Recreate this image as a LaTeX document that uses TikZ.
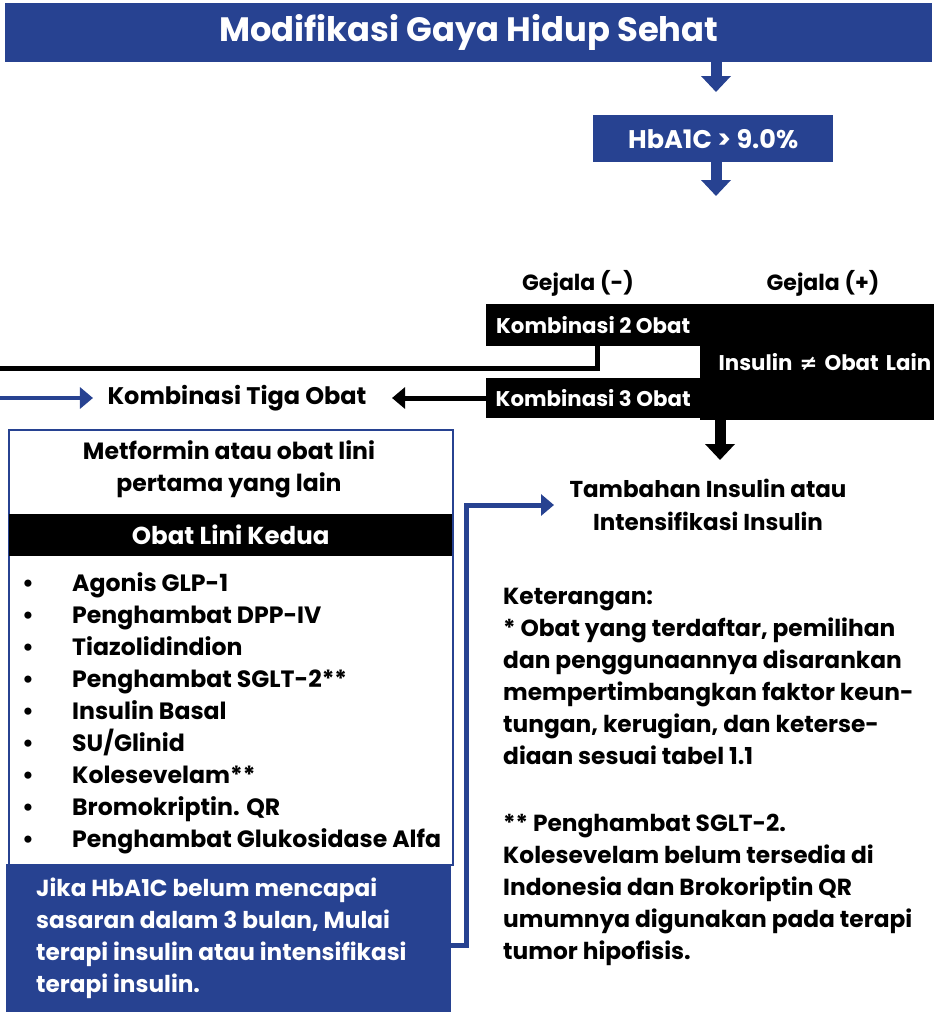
\documentclass[tikz,border=0pt]{standalone}
\usepackage{fontspec}
\setmainfont{Poppins}
\newfontfamily\symf{DejaVu Sans}
\usetikzlibrary{arrows.meta}
\definecolor{dblue}{RGB}{39,66,145}
\tikzset{
  bluebox/.style={fill=dblue, text=white, inner sep=0pt},
  blackbox/.style={fill=black, text=white, inner sep=0pt},
  fatarrow/.style={line width=11pt, -{Triangle[length=16pt,width=29pt]}},
  thinarrow/.style={line width=5pt, -{Triangle[length=13pt,width=21pt]}},
  fsA/.style={font=\bfseries\fontsize{23.6}{32}\selectfont},
  fsB/.style={font=\bfseries\fontsize{22}{32}\selectfont},
  fsC/.style={font=\bfseries\fontsize{21.3}{24}\selectfont},
}
\begin{document}
\begin{tikzpicture}[x=1pt,y=-1pt]
\useasboundingbox (0,0) rectangle (934,1012);
% title
\node[bluebox, anchor=north west, minimum width=927pt, minimum height=59pt,
      font=\bfseries\fontsize{33.8}{38}\selectfont] (title) at (5,3) {Modifikasi Gaya Hidup Sehat};
\node[bluebox, anchor=north west, minimum width=240pt, minimum height=47pt,
      font=\bfseries\fontsize{25.5}{30}\selectfont] (hba) at (593,115) {HbA1C > 9.0\%};
\coordinate (a1) at (716,92);
\coordinate (a2) at (716,196);
\draw[fatarrow, dblue] (title.south -| a1) -- (a1);
\draw[fatarrow, dblue] (hba.south -| a2) -- (a2);
% gejala
\node[fsB] (gneg) at (578,283) {Gejala (-)};
\node[fsB] (gpos) at (823,283) {Gejala (+)};
% black boxes
\node[blackbox, anchor=north west, minimum width=234pt, minimum height=116pt,
      text width=228pt, align=right, fsC] (ins) at (700,304) {Insulin {\symf\bfseries ≠} Obat Lain};
\node[blackbox, anchor=north west, minimum width=214pt, minimum height=42pt, fsC] (k2) at (486,304) {Kombinasi 2 Obat};
\node[blackbox, anchor=north west, minimum width=214pt, minimum height=40pt, fsC] (k3) at (486,378) {Kombinasi 3 Obat};
\coordinate (a3) at (720,460);
\draw[fatarrow, black] (ins.south -| a3) -- (a3);
% kombinasi tiga obat
\node[font=\bfseries\fontsize{24}{30}\selectfont] (kt) at (237,398) {Kombinasi Tiga Obat};
\coordinate (lend) at (0,368);
\draw[line width=5pt, black] ([xshift=4pt]k2.south) |- (lend);
\draw[thinarrow, black] (k3.west |- kt) -- ([xshift=22pt]kt.east);
\coordinate (bstart) at (0,398);
\draw[thinarrow, dblue, line width=4pt] (bstart) -- ([xshift=-11pt]kt.west);
% white box
\node[draw=dblue, line width=2pt, anchor=north west, minimum width=444pt, minimum height=435pt, inner sep=0pt] (wbox) at (8,429) {};
\node[align=center, font=\bfseries\fontsize{23.5}{32}\selectfont] (metf) at (229,469) {Metformin atau obat lini\\pertama yang lain};
\node[blackbox, anchor=north west, minimum width=443pt, minimum height=42pt,
      font=\bfseries\fontsize{24.5}{30}\selectfont] (band) at (9,514) {Obat Lini Kedua};
\foreach \t [count=\i] in {Agonis GLP-1, Penghambat DPP-IV, Tiazolidindion, Penghambat SGLT-2**,
  Insulin Basal, SU/Glinid, Kolesevelam**, Bromokriptin. QR, Penghambat Glukosidase Alfa}
  \node[anchor=base west, inner sep=0pt, fsA] (item\i) at (22,{591+32*(\i-1)}) {\makebox[50pt][l]{\textbullet}\t};
% blue note box
\node[bluebox, anchor=north west, minimum width=445pt, minimum height=148pt] (jika) at (6,864) {};
\node[anchor=west, align=left, text=white, inner sep=0pt, font=\bfseries\fontsize{23.2}{32}\selectfont] (jikat) at ([xshift=30pt]jika.west)
  {Jika HbA1C belum mencapai\\sasaran dalam 3 bulan, Mulai\\terapi insulin atau intensifikasi\\terapi insulin.};
% tambahan
\node[align=center, font=\bfseries\fontsize{23}{33}\selectfont] (tamb) at (708,505) {Tambahan Insulin atau\\Intensifikasi Insulin};
\draw[thinarrow, dblue] ([yshift=-7pt]jika.east) -- ++(15,0) |- ([xshift=-12pt]tamb.west);
% keterangan
\node[anchor=north west, align=left, inner sep=0pt, font=\bfseries\fontsize{23.3}{32}\selectfont] (ket) at (503,588)
  {Keterangan:\\
   * Obat yang terdaftar, pemilihan\\
   dan penggunaannya disarankan\\
   mempertimbangkan faktor keun-\\
   tungan, kerugian, dan keterse-\\
   diaan sesuai tabel 1.1\\[35pt]
   ** Penghambat SGLT-2.\\
   Kolesevelam belum tersedia di\\
   Indonesia dan Brokoriptin QR\\
   umumnya digunakan pada terapi\\
   tumor hipofisis.};
\end{tikzpicture}
\end{document}
